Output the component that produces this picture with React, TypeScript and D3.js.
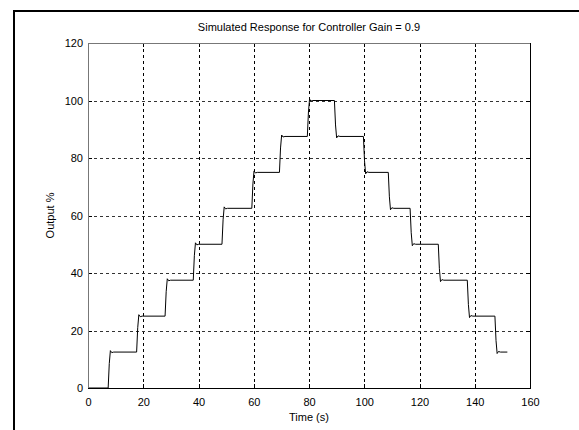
import React from "react";
import * as d3 from "d3";

const titleText = "Simulated Response for Controller Gain = 0.9";
const xLabel = "Time (s)";
const yLabel = "Output %";
const xTicks = [0, 20, 40, 60, 80, 100, 120, 140, 160];
const yTicks = [0, 20, 40, 60, 80, 100, 120];

const times = [
  0, 7.3, 7.7, 8.1, 8.6, 9.3,
  17.6, 18.0, 18.4, 18.9, 19.6,
  27.9, 28.3, 28.7, 29.2, 29.9,
  38.1, 38.5, 38.9, 39.4, 40.1,
  48.5, 48.9, 49.3, 49.8, 50.5,
  59.3, 59.7, 60.1, 60.6, 61.3,
  69.3, 69.7, 70.1, 70.6, 71.3,
  79.4, 79.8, 80.2, 80.7, 81.4,
  89.2, 89.6, 90.0, 90.5, 91.2,
  99.7, 100.1, 100.5, 101.0, 101.7,
  108.7, 109.1, 109.5, 110.0, 110.7,
  116.6, 117.0, 117.4, 117.9, 118.6,
  126.8, 127.2, 127.6, 128.1, 128.8,
  137.3, 137.7, 138.1, 138.6, 139.3,
  147.3, 147.7, 148.1, 148.6, 149.3,
  151.8,
];
const output = [
  0, 0, 8.5, 13.0, 12.3, 12.5,
  12.5, 21.0, 25.5, 24.8, 25,
  25, 33.5, 38.0, 37.3, 37.5,
  37.5, 46.0, 50.5, 49.8, 50,
  50, 58.5, 63.0, 62.3, 62.5,
  62.5, 71.0, 75.5, 74.8, 75,
  75, 83.5, 88.0, 87.3, 87.5,
  87.5, 96.0, 100.5, 99.8, 100,
  100, 91.5, 87.0, 87.7, 87.5,
  87.5, 79.0, 74.5, 75.2, 75,
  75, 66.5, 62.0, 62.7, 62.5,
  62.5, 54.0, 49.5, 50.2, 50,
  50, 41.5, 37.0, 37.7, 37.5,
  37.5, 29.0, 24.5, 25.2, 25,
  25, 16.5, 12.0, 12.7, 12.5,
  12.5,
];

const W = 579;
const H = 430;
const L = 88, R = 530, T = 43, B = 388;
const font = "'Liberation Sans', Arial, sans-serif";

export default function App() {
  const x = d3.scaleLinear().domain([0, 160]).range([L, R]);
  const y = d3.scaleLinear().domain([0, 120]).range([B, T]);
  const pts: [number, number][] = times.map((t, i) => [t, output[i]]);
  const line = d3
    .line<[number, number]>()
    .x((d) => x(d[0]))
    .y((d) => y(d[1]));

  return (
    <svg
      width={W}
      height={H}
      style={{ position: "fixed", left: 0, top: 0, display: "block", background: "#fff" }}
    >
      <rect x={0} y={0} width={W} height={H} fill="#fff" />
      <path d={`M14,${H + 2} V11 H${W + 2}`} fill="none" stroke="#000" strokeWidth={2} />
      <rect x={L} y={T} width={R - L} height={B - T} fill="#fff" />
      {/* grid */}
      {xTicks.slice(1, -1).map((t) => (
        <line
          key={"gx" + t}
          x1={Math.round(x(t)) + 0.5}
          x2={Math.round(x(t)) + 0.5}
          y1={T}
          y2={B}
          stroke="#000"
          strokeWidth={1}
          strokeDasharray="3,3"
        />
      ))}
      {yTicks.slice(1, -1).map((t) => (
        <line
          key={"gy" + t}
          x1={L}
          x2={R}
          y1={Math.round(y(t)) + 0.5}
          y2={Math.round(y(t)) + 0.5}
          stroke="#333"
          strokeWidth={1}
          strokeDasharray="3,3"
        />
      ))}
      {/* inward ticks */}
      {xTicks.map((t) => (
        <g key={"tx" + t}>
          <line x1={Math.round(x(t)) + 0.5} x2={Math.round(x(t)) + 0.5} y1={B} y2={B - 4} stroke="#000" />
          <line x1={Math.round(x(t)) + 0.5} x2={Math.round(x(t)) + 0.5} y1={T} y2={T + 4} stroke="#000" />
        </g>
      ))}
      {yTicks.map((t) => (
        <g key={"ty" + t}>
          <line x1={L} x2={L + 4} y1={Math.round(y(t)) + 0.5} y2={Math.round(y(t)) + 0.5} stroke="#000" />
          <line x1={R} x2={R - 4} y1={Math.round(y(t)) + 0.5} y2={Math.round(y(t)) + 0.5} stroke="#000" />
        </g>
      ))}
      {/* data */}
      <path d={line(pts) || ""} fill="none" stroke="#000" strokeWidth={1} />
      {/* axes box */}
      <line x1={L + 0.5} x2={L + 0.5} y1={T} y2={B} stroke="#777" />
      <line x1={L} x2={R} y1={T + 0.5} y2={T + 0.5} stroke="#777" />
      <line x1={R + 0.5} x2={R + 0.5} y1={T} y2={B + 1} stroke="#000" />
      <line x1={L} x2={R + 1} y1={B + 0.5} y2={B + 0.5} stroke="#000" />
      {/* tick labels */}
      {xTicks.map((t) => (
        <text key={"lx" + t} x={x(t) + 0.5} y={406} textAnchor="middle" fontFamily={font} fontSize={11} fill="#000">
          {t}
        </text>
      ))}
      {yTicks.map((t) => (
        <text key={"ly" + t} x={83} y={y(t) + 4} textAnchor="end" fontFamily={font} fontSize={11} fill="#000">
          {t}
        </text>
      ))}
      <text x={(L + R) / 2} y={31} textAnchor="middle" fontFamily={font} fontSize={11} fill="#000">
        {titleText}
      </text>
      <text x={(L + R) / 2} y={421} textAnchor="middle" fontFamily={font} fontSize={11} fill="#000">
        {xLabel}
      </text>
      <text
        x={0}
        y={0}
        transform={`translate(54, ${(T + B) / 2}) rotate(-90)`}
        textAnchor="middle"
        fontFamily={font}
        fontSize={11}
        fill="#000"
      >
        {yLabel}
      </text>
    </svg>
  );
}
